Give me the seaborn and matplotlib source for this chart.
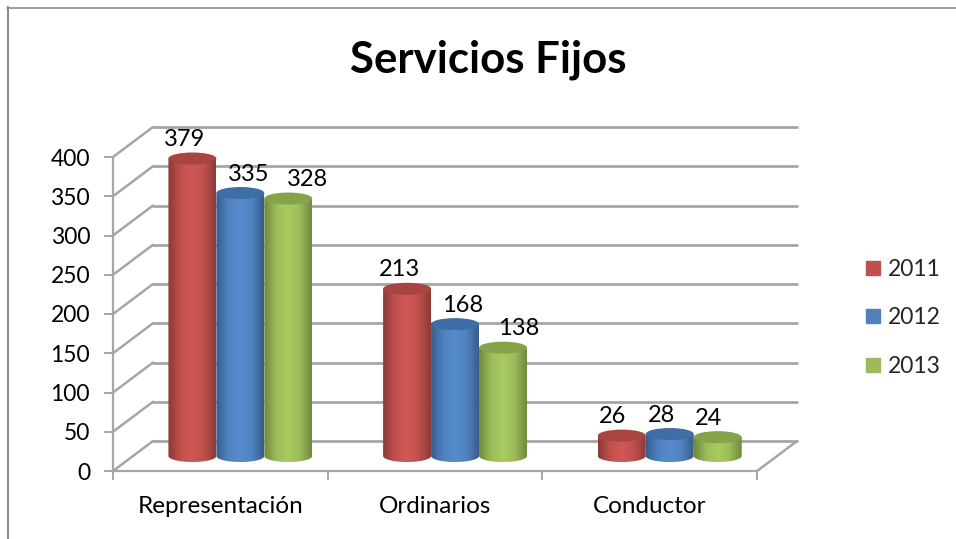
import matplotlib
matplotlib.use("Agg")
import matplotlib.pyplot as plt
from matplotlib.colors import LinearSegmentedColormap
from matplotlib.patches import Ellipse
from matplotlib.lines import Line2D
from matplotlib.path import Path
import numpy as np
import pandas as pd
import seaborn as sns

categories = ["Representación", "Ordinarios", "Conductor"]
years = ["2011", "2012", "2013"]
values_2011 = [379, 213, 26]
values_2012 = [335, 168, 28]
values_2013 = [328, 138, 24]
y_ticks = [0, 50, 100, 150, 200, 250, 300, 350, 400]
colors = ["#c0504d", "#4f81bd", "#9bbb59"]
dark = ["#8a3a38", "#365e8e", "#6f893c"]
light = ["#d05855", "#568cce", "#a9cc60"]
top_colors = ["#a84441", "#3f6ea6", "#86a34a"]
# horizontal shift of each value label from its bar, in pixels
label_dx = [[-8, -8, -9], [8, 8, -8], [19, 16, -9]]

sns.set_theme(style="white")
plt.rcParams["font.family"] = ["Lato", "DejaVu Sans"]

W, H = 956, 539
PX_X = 214.7  # pixels per category
PX_Y = 0.785  # pixels per value unit
GRID = "#a6a6a6"
depth_x = 20 / PX_X
depth_y = 15 / PX_Y

df = pd.DataFrame({
    "cat": categories * 3,
    "year": [y for y in years for _ in categories],
    "val": values_2011 + values_2012 + values_2013,
})

fig = plt.figure(figsize=(W / 100, H / 100), dpi=100, facecolor="white")
ax = fig.add_axes([0, 0, 1, 1])
sns.barplot(data=df, x="cat", y="val", hue="year", palette=colors, width=0.67,
            gap=0, saturation=1, legend=False, ax=ax, zorder=3)

ax.set_xlabel("")
ax.set_ylabel("")
ax.set_facecolor("none")

# back wall and side wall
x_left = -0.5
x_right = 2.5
for v in y_ticks:
    ax.plot([x_left + depth_x, x_right + depth_x], [v + depth_y] * 2, color=GRID, lw=2.0, zorder=1)
    ax.plot([x_left - depth_x, x_left + depth_x], [v - depth_y, v + depth_y], color=GRID, lw=1.8, zorder=1)
ax.plot([x_right - depth_x, x_right + depth_x], [-depth_y, depth_y], color=GRID, lw=1.8, zorder=1)

# front axes
for side in ["top", "right"]:
    ax.spines[side].set_visible(False)
ax.spines["left"].set_position(("data", x_left - depth_x))
ax.spines["bottom"].set_position(("data", -depth_y))
ax.spines["left"].set_bounds(-depth_y, 400 - depth_y)
ax.spines["bottom"].set_bounds(x_left - depth_x, x_right - depth_x)
for side in ["left", "bottom"]:
    ax.spines[side].set_color(GRID)
    ax.spines[side].set_linewidth(1.6)

ax.set_yticks([v - depth_y for v in y_ticks], [str(v) for v in y_ticks])
ax.set_xticks([x_left - depth_x + i for i in range(4)], [""] * 4)
ax.set_xticks([i - depth_x for i in range(3)], categories, minor=True)
ax.tick_params(axis="y", left=True, length=6.5, width=1.4, color=GRID, labelsize=16.5, pad=10, labelcolor="black")
ax.tick_params(axis="x", which="major", bottom=True, length=6.5, width=1.4, color=GRID)
ax.tick_params(axis="x", which="minor", bottom=False, length=0, labelsize=17.5, pad=18, labelcolor="black")

# cylinders on top of the flat bars
grad = np.linspace(0, 1, 128).reshape(1, -1)
ell_h = 12 / PX_Y
for i, cont in enumerate(ax.containers):
    cmap = LinearSegmentedColormap.from_list("c%d" % i, [dark[i], colors[i], light[i], colors[i], dark[i]])
    for j, bar in enumerate(cont):
        x0, w, top = bar.get_x(), bar.get_width(), bar.get_height()
        bar.set_visible(False)
        im = ax.imshow(grad, extent=[x0, x0 + w, -ell_h / 2, top], aspect="auto", cmap=cmap,
                       zorder=3.1 + i * 0.1)
        t = np.linspace(np.pi, 2 * np.pi, 40)
        xs = x0 + w / 2 + w / 2 * np.cos(t)
        ys = ell_h / 2 * np.sin(t)
        verts = np.column_stack([xs, ys]).tolist() + [[x0 + w, top], [x0, top], [x0, 0]]
        im.set_clip_path(Path(verts), transform=ax.transData)
        ax.add_patch(Ellipse((x0 + w / 2, top), w, ell_h, fc=top_colors[i], lw=0, zorder=3.15 + i * 0.1))
        ax.text(x0 + w / 2 + label_dx[i][j] / PX_X, top + 19 / PX_Y, str(int(top)), ha="center", va="center",
                fontsize=17, color="black", zorder=6)

# axes fill the figure, the value 0 of the bar base sits at pixel 456
ax.set_xlim(-0.5 - 133 / PX_X, -0.5 + (W - 133) / PX_X)
ax.set_ylim(-(H - 456) / PX_Y, 456 / PX_Y)

fig.text(488 / W, 1 - 60 / H, "Servicios Fijos", ha="center", va="center", fontsize=31.5, fontweight="bold", color="black")

# legend
handles = [Line2D([], [], ls="", marker="s", ms=10.5, color=c) for c in colors]
fig.legend(handles, years, loc="center left", bbox_to_anchor=(862 / W, 1 - 318 / H), frameon=False,
           fontsize=16.5, labelspacing=1.18, handlelength=1, handletextpad=0.12, borderpad=0, borderaxespad=0)

# chart border
fig.add_artist(Line2D([7.5 / W, 7.5 / W], [0, 1 - 7 / H], color="#8c8c8c", lw=1.5))
fig.add_artist(Line2D([7 / W, 1], [1 - 7.5 / H, 1 - 7.5 / H], color="#8c8c8c", lw=1.2))

fig.savefig("out.png", dpi=100)
